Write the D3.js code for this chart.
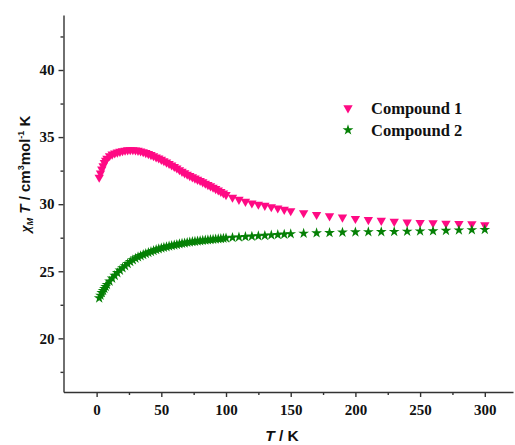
<!DOCTYPE html>
<html>
<head>
<meta charset="utf-8">
<script src="https://cdn.jsdelivr.net/npm/d3@7"></script>
<style>
  body { margin: 0; background: #fff; }
  .tick text { font-family: "Liberation Serif", "Times New Roman", serif; font-weight: bold; font-size: 15px; fill: #111; }
  .axis path, .axis line { stroke: #333; stroke-width: 1.4px; }
</style>
</head>
<body>
<svg id="chart"></svg>
<script>
const width = 515, height = 445;

// temperatures (K)
const temps = [2, 3, 4, 5, 6, 7, 8, 10, 12, 14, 16, 18, 20, 22, 24, 26, 28, 30, 32, 34, 36, 38, 40,
    42, 44, 46, 48, 50, 52, 54, 56, 58, 60, 62, 64, 66, 68, 70, 72, 74, 76, 78, 80,
    82, 84, 86, 88, 90, 92, 94, 96, 98, 100, 105, 110, 115, 120, 125, 130, 135, 140, 145, 150,
    160, 170, 180, 190, 200, 210, 220, 230, 240, 250, 260, 270, 280, 290, 300];

// chi_M T, compound 1
const compound1 = [32.0, 32.3, 32.6, 32.85, 33.1, 33.25, 33.4, 33.6, 33.72, 33.8, 33.87, 33.92, 33.97,
    34.01, 34.04, 34.05, 34.05, 34.03, 34.0, 33.95, 33.9, 33.83, 33.76,
    33.68, 33.6, 33.51, 33.43, 33.33, 33.23, 33.12, 33.02, 32.91, 32.8,
    32.68, 32.55, 32.43, 32.32, 32.22, 32.12, 32.02, 31.93, 31.84, 31.75,
    31.65, 31.55, 31.45, 31.35, 31.25, 31.15, 31.05, 30.93, 30.82, 30.7,
    30.5, 30.35, 30.2, 30.08, 29.98, 29.9, 29.8, 29.7, 29.6, 29.5,
    29.35, 29.22, 29.12, 29.02, 28.92, 28.84, 28.78, 28.71, 28.65, 28.62, 28.6, 28.57, 28.55, 28.53, 28.45];

// chi_M T, compound 2
const compound2 = [23.0, 23.2, 23.4, 23.55, 23.7, 23.85, 24.0, 24.25, 24.47, 24.68, 24.88, 25.07, 25.24,
    25.4, 25.56, 25.71, 25.84, 25.96, 26.06, 26.15, 26.23, 26.31, 26.39,
    26.46, 26.53, 26.6, 26.66, 26.72, 26.77, 26.82, 26.87, 26.91, 26.95,
    26.99, 27.03, 27.07, 27.1, 27.14, 27.17, 27.2, 27.22, 27.25, 27.27,
    27.29, 27.31, 27.33, 27.35, 27.37, 27.39, 27.41, 27.43, 27.45, 27.47,
    27.51, 27.54, 27.57, 27.6, 27.63, 27.66, 27.69, 27.72, 27.75, 27.78,
    27.82, 27.85, 27.87, 27.9, 27.92, 27.93, 27.94, 27.95, 27.97, 27.99, 28.0, 28.03, 28.06, 28.08, 28.1];

const xTicks = [0, 50, 100, 150, 200, 250, 300];
const xMinor = [25, 75, 125, 175, 225, 275];
const yTicks = [20, 25, 30, 35, 40];
const yMinor = [17.5, 22.5, 27.5, 32.5, 37.5, 42.5];

const pink = "#ff0a84";
const green = "#058005";

const svg = d3.select("#chart")
    .attr("width", width)
    .attr("height", height);

const x = d3.scaleLinear().domain([-25.6, 321.8]).range([63.5, 513]);
const y = d3.scaleLinear().domain([16, 44.1]).range([392, 15]);

// minor ticks first (under axis line)
svg.append("g")
    .attr("class", "axis")
    .attr("transform", `translate(0,${y.range()[0]})`)
    .call(d3.axisBottom(x).tickValues(xMinor).tickSize(3).tickFormat("").tickSizeOuter(0))
    .select(".domain").remove();

svg.append("g")
    .attr("class", "axis")
    .attr("transform", `translate(${x.range()[0]},0)`)
    .call(d3.axisLeft(y).tickValues(yMinor).tickSize(3).tickFormat("").tickSizeOuter(0))
    .select(".domain").remove();

svg.append("g")
    .attr("class", "axis")
    .attr("transform", `translate(0,${y.range()[0]})`)
    .call(d3.axisBottom(x).tickValues(xTicks).tickSize(5).tickPadding(7).tickSizeOuter(0));

svg.append("g")
    .attr("class", "axis")
    .attr("transform", `translate(${x.range()[0]},0)`)
    .call(d3.axisLeft(y).tickValues(yTicks).tickSize(5).tickPadding(4).tickSizeOuter(0));

// data markers
const tri = d3.symbol().type(d3.symbolTriangle).size(38);
const star = d3.symbol().type(d3.symbolStar).size(36);

const series = [
    { name: "Compound 1", values: compound1, color: pink, shape: tri, rot: 180 },
    { name: "Compound 2", values: compound2, color: green, shape: star, rot: 0 }
];

series.forEach(s => {
    svg.append("g")
        .selectAll("path")
        .data(temps.map((t, i) => ({ t, v: s.values[i] })))
        .join("path")
        .attr("d", s.shape)
        .attr("fill", s.color)
        .attr("transform", d => `translate(${x(d.t)},${y(d.v)}) rotate(${s.rot})`);
});

// legend
const legend = svg.append("g").attr("transform", "translate(348,108)");
series.forEach((s, i) => {
    const g = legend.append("g").attr("transform", `translate(0,${i * 22})`);
    g.append("path")
        .attr("d", s.shape)
        .attr("fill", s.color)
        .attr("transform", `rotate(${s.rot})`);
    g.append("text")
        .attr("x", 23)
        .attr("y", 5.5)
        .attr("font-family", "Liberation Serif, Times New Roman, serif")
        .attr("font-weight", "bold")
        .attr("font-size", 16.5)
        .attr("fill", "#111")
        .text(s.name);
});

// axis titles
const xTitle = svg.append("text")
    .attr("x", 282)
    .attr("y", 441)
    .attr("text-anchor", "middle")
    .attr("font-family", "Liberation Sans, Arial, sans-serif")
    .attr("font-weight", "bold")
    .attr("font-size", 15.5)
    .attr("fill", "#111");
xTitle.append("tspan").attr("font-style", "italic").text("T");
xTitle.append("tspan").text(" / K");

const yTitle = svg.append("text")
    .attr("transform", "translate(30,174) rotate(-90)")
    .attr("text-anchor", "middle")
    .attr("font-family", "Liberation Sans, Arial, sans-serif")
    .attr("font-weight", "bold")
    .attr("font-size", 15)
    .attr("fill", "#111");
yTitle.append("tspan").attr("font-style", "italic").attr("font-family", "Liberation Serif, serif").text("χ");
yTitle.append("tspan").attr("font-style", "italic").attr("font-size", 9).attr("dy", 3).text("M");
yTitle.append("tspan").attr("font-style", "italic").attr("dy", -3).text(" T");
yTitle.append("tspan").text(" / cm");
yTitle.append("tspan").attr("font-size", 9).attr("dy", -6).text("3");
yTitle.append("tspan").attr("dy", 6).text("mol");
yTitle.append("tspan").attr("font-size", 9).attr("dy", -6).text("-1");
yTitle.append("tspan").attr("dy", 6).text(" K");
</script>
</body>
</html>
